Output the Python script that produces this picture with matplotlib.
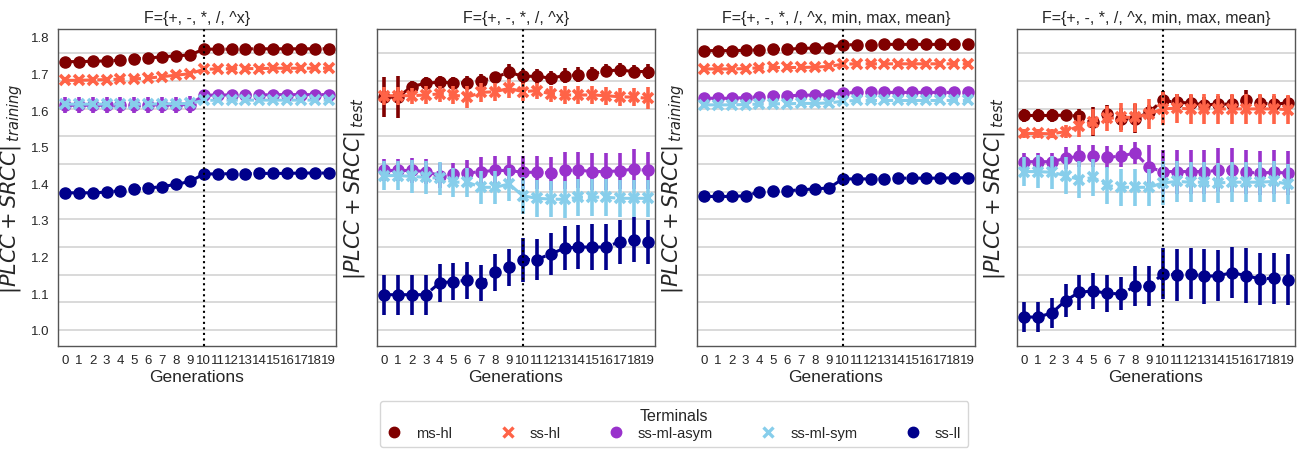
import numpy as np
import matplotlib
matplotlib.use("Agg")
import matplotlib.pyplot as plt
from matplotlib.lines import Line2D

generations = list(range(20))
terminals = ["ms-hl", "ss-hl", "ss-ml-asym", "ss-ml-sym", "ss-ll"]
colors = ["#800000", "#FF6347", "#9932CC", "#87CEEB", "#00008B"]
markers = ["o", "x", "o", "x", "o"]
titles = ["F={+, -, *, /, ^x}", "F={+, -, *, /, ^x}",
          "F={+, -, *, /, ^x, min, max, mean}", "F={+, -, *, /, ^x, min, max, mean}"]
ylabels = [r"$|PLCC + SRCC|_{\,training}$", r"$|PLCC + SRCC|_{\,test}$",
           r"$|PLCC + SRCC|_{\,training}$", r"$|PLCC + SRCC|_{\,test}$"]

# Panel 1: training, F1
train1_ms_hl = [1.732, 1.732, 1.733, 1.734, 1.736, 1.740, 1.742, 1.745, 1.748, 1.750,
                1.766, 1.766, 1.766, 1.767, 1.767, 1.767, 1.767, 1.767, 1.767, 1.767]
train1_ss_hl = [1.681, 1.681, 1.682, 1.683, 1.684, 1.685, 1.687, 1.691, 1.695, 1.699,
                1.711, 1.712, 1.713, 1.713, 1.713, 1.714, 1.714, 1.714, 1.714, 1.714]
train1_asym = [1.613, 1.613, 1.613, 1.613, 1.613, 1.613, 1.614, 1.614, 1.614, 1.615,
               1.640, 1.641, 1.641, 1.641, 1.641, 1.642, 1.642, 1.642, 1.642, 1.642]
train1_sym = [1.616, 1.616, 1.616, 1.616, 1.616, 1.616, 1.616, 1.617, 1.617, 1.618,
              1.626, 1.627, 1.627, 1.627, 1.627, 1.627, 1.627, 1.627, 1.627, 1.627]
train1_ss_ll = [1.374, 1.374, 1.374, 1.376, 1.380, 1.385, 1.387, 1.391, 1.397, 1.405,
                1.425, 1.426, 1.426, 1.426, 1.427, 1.427, 1.427, 1.428, 1.428, 1.428]
train1_err = [[0.004] * 20, [0.004] * 20,
              [0.022] * 10 + [0.006] * 10, [0.006] * 20,
              [0.005] * 10 + [0.010] * 10]

# Panel 2: test, F1
test1_ms_hl = [1.635, 1.635, 1.664, 1.673, 1.676, 1.674, 1.674, 1.680, 1.689, 1.703,
               1.692, 1.692, 1.687, 1.694, 1.696, 1.698, 1.707, 1.709, 1.705, 1.705]
test1_ss_hl = [1.639, 1.639, 1.639, 1.641, 1.644, 1.641, 1.635, 1.648, 1.650, 1.659,
               1.650, 1.653, 1.644, 1.641, 1.641, 1.641, 1.639, 1.636, 1.635, 1.632]
test1_asym = [1.435, 1.435, 1.435, 1.432, 1.421, 1.426, 1.428, 1.432, 1.435, 1.435,
              1.430, 1.430, 1.428, 1.435, 1.436, 1.432, 1.432, 1.434, 1.439, 1.435]
test1_sym = [1.421, 1.421, 1.419, 1.416, 1.414, 1.403, 1.403, 1.389, 1.389, 1.398,
             1.366, 1.359, 1.357, 1.356, 1.362, 1.362, 1.362, 1.359, 1.359, 1.359]
test1_ss_ll = [1.096, 1.096, 1.096, 1.096, 1.128, 1.132, 1.135, 1.128, 1.157, 1.171,
               1.192, 1.192, 1.207, 1.223, 1.226, 1.226, 1.226, 1.241, 1.246, 1.239]
test1_err = [
    [0.055, 0.058, 0.015, 0.018, 0.018, 0.015, 0.02, 0.018, 0.015, 0.022,
     0.02, 0.02, 0.02, 0.02, 0.02, 0.02, 0.018, 0.018, 0.018, 0.02],
    [0.025, 0.025, 0.022, 0.025, 0.022, 0.025, 0.03, 0.025, 0.025, 0.025,
     0.025, 0.022, 0.022, 0.025, 0.025, 0.025, 0.025, 0.025, 0.025, 0.03],
    [0.03, 0.03, 0.035, 0.035, 0.035, 0.03, 0.035, 0.04, 0.04, 0.04,
     0.045, 0.045, 0.045, 0.05, 0.05, 0.05, 0.05, 0.05, 0.055, 0.05],
    [0.04, 0.04, 0.045, 0.045, 0.045, 0.04, 0.04, 0.045, 0.045, 0.045,
     0.05, 0.05, 0.05, 0.05, 0.05, 0.05, 0.05, 0.05, 0.05, 0.05],
    [0.055, 0.055, 0.055, 0.055, 0.052, 0.05, 0.05, 0.048, 0.05, 0.05,
     0.06, 0.055, 0.058, 0.06, 0.06, 0.062, 0.062, 0.06, 0.062, 0.06],
]

# Panel 3: training, F2
train2_ms_hl = [1.762, 1.762, 1.762, 1.763, 1.764, 1.766, 1.766, 1.768, 1.769, 1.770,
                1.778, 1.778, 1.778, 1.779, 1.779, 1.779, 1.779, 1.779, 1.779, 1.779]
train2_ss_hl = [1.712, 1.712, 1.712, 1.713, 1.715, 1.716, 1.716, 1.716, 1.717, 1.719,
                1.725, 1.726, 1.726, 1.726, 1.726, 1.726, 1.726, 1.726, 1.726, 1.726]
train2_asym = [1.632, 1.632, 1.632, 1.634, 1.636, 1.638, 1.639, 1.640, 1.641, 1.642,
               1.646, 1.648, 1.648, 1.648, 1.648, 1.648, 1.648, 1.648, 1.648, 1.648]
train2_sym = [1.614, 1.614, 1.614, 1.615, 1.616, 1.617, 1.617, 1.618, 1.618, 1.619,
              1.624, 1.626, 1.626, 1.626, 1.626, 1.626, 1.626, 1.626, 1.626, 1.626]
train2_ss_ll = [1.364, 1.364, 1.364, 1.366, 1.376, 1.378, 1.380, 1.382, 1.385, 1.387,
                1.412, 1.412, 1.412, 1.413, 1.414, 1.414, 1.414, 1.414, 1.415, 1.415]
train2_err = [[0.004] * 20, [0.004] * 20, [0.006] * 20, [0.005] * 20,
              [0.006] * 10 + [0.012] * 10]

# Panel 4: test, F2
test2_ms_hl = [1.585, 1.585, 1.585, 1.586, 1.583, 1.568, 1.589, 1.576, 1.576, 1.594,
               1.626, 1.621, 1.619, 1.614, 1.616, 1.616, 1.626, 1.619, 1.616, 1.619]
test2_ss_hl = [1.536, 1.536, 1.535, 1.541, 1.557, 1.568, 1.577, 1.580, 1.580, 1.589,
               1.603, 1.605, 1.603, 1.603, 1.603, 1.603, 1.603, 1.603, 1.603, 1.601]
test2_asym = [1.459, 1.459, 1.459, 1.468, 1.474, 1.474, 1.471, 1.474, 1.483, 1.444,
              1.432, 1.432, 1.432, 1.432, 1.435, 1.435, 1.430, 1.428, 1.430, 1.428]
test2_sym = [1.432, 1.432, 1.430, 1.421, 1.410, 1.416, 1.394, 1.389, 1.389, 1.389,
             1.401, 1.405, 1.403, 1.403, 1.401, 1.403, 1.403, 1.403, 1.405, 1.398]
test2_ss_ll = [1.035, 1.035, 1.046, 1.080, 1.103, 1.106, 1.100, 1.098, 1.119, 1.119,
               1.153, 1.150, 1.153, 1.146, 1.148, 1.156, 1.148, 1.139, 1.141, 1.137]
test2_err = [
    [0.018, 0.018, 0.018, 0.015, 0.02, 0.04, 0.025, 0.03, 0.04, 0.02,
     0.025, 0.022, 0.022, 0.022, 0.022, 0.025, 0.028, 0.022, 0.022, 0.02],
    [0.012, 0.012, 0.012, 0.018, 0.03, 0.035, 0.035, 0.04, 0.04, 0.04,
     0.045, 0.04, 0.04, 0.04, 0.04, 0.04, 0.04, 0.04, 0.04, 0.04],
    [0.025, 0.025, 0.025, 0.03, 0.03, 0.03, 0.03, 0.03, 0.03, 0.06,
     0.06, 0.06, 0.06, 0.06, 0.06, 0.06, 0.06, 0.06, 0.06, 0.06],
    [0.04, 0.045, 0.045, 0.05, 0.05, 0.05, 0.05, 0.05, 0.05, 0.05,
     0.06, 0.055, 0.055, 0.055, 0.055, 0.055, 0.055, 0.055, 0.055, 0.055],
    [0.04, 0.04, 0.04, 0.045, 0.048, 0.05, 0.05, 0.045, 0.055, 0.055,
     0.07, 0.07, 0.07, 0.075, 0.07, 0.07, 0.075, 0.07, 0.07, 0.07],
]

panels = [
    ([train1_ms_hl, train1_ss_hl, train1_asym, train1_sym, train1_ss_ll], train1_err),
    ([test1_ms_hl, test1_ss_hl, test1_asym, test1_sym, test1_ss_ll], test1_err),
    ([train2_ms_hl, train2_ss_hl, train2_asym, train2_sym, train2_ss_ll], train2_err),
    ([test2_ms_hl, test2_ss_hl, test2_asym, test2_sym, test2_ss_ll], test2_err),
]

ytick_vals = [1.0, 1.1, 1.2, 1.3, 1.4, 1.5, 1.6, 1.7, 1.8]
grid_vals = list(np.linspace(1.0, 1.7545, 11))

plt.rcParams["font.family"] = ["Liberation Sans", "DejaVu Sans"]
plt.rcParams["mathtext.fontset"] = "dejavusans"

fig = plt.figure(figsize=(13.02, 4.52), dpi=100)
lefts = [0.0445, 0.2896, 0.5353, 0.7811]
W, B, H = 0.2133, 0.2323, 0.7013
txt = "#262626"

for i, (series, errs) in enumerate(panels):
    ax = fig.add_axes([lefts[i], B, W, H])
    for yv in grid_vals:
        ax.axhline(yv, color="#d3d3d3", lw=1.2, zorder=0)
    for j, name in enumerate(terminals):
        mew = 2.6 if markers[j] == "x" else 1
        ms = 6.8 if markers[j] == "x" else 8
        ax.errorbar(generations, series[j], yerr=errs[j], color=colors[j],
                    marker=markers[j], ms=ms, mew=mew, ls="--", lw=2.2,
                    elinewidth=2.6, capsize=0, zorder=2 + j)
    ax.axvline(10, color="black", ls=":", lw=1.5, zorder=10)
    ax.set_xlim(-0.5, 19.5)
    ax.set_ylim(0.956, 1.821)
    ax.set_xticks(generations)
    ax.set_xticklabels([str(g) for g in generations], fontsize=9.5, color=txt)
    ax.set_yticks(ytick_vals)
    if i == 0:
        ax.set_yticklabels([f"{v:.1f}" for v in ytick_vals], fontsize=9.5, color=txt)
        lp = 4
    else:
        ax.set_yticklabels([])
        lp = 1
    ax.tick_params(length=0, pad=6)
    ax.set_xlabel("Generations", fontsize=12.5, color=txt, labelpad=2)
    ax.set_ylabel(ylabels[i], fontsize=15, color=txt, labelpad=lp)
    ax.set_title(titles[i], fontsize=11.5, color=txt, pad=5)
    for s in ax.spines.values():
        s.set_color("#555555")
        s.set_linewidth(1.0)

handles = [Line2D([0], [0], color=colors[j], marker=markers[j], ls="none",
                  ms=7.5 if markers[j] == "o" else 6.5,
                  mew=2.4 if markers[j] == "x" else 1) for j in range(5)]
leg = fig.legend(handles, terminals, title="Terminals", loc="lower center",
                 bbox_to_anchor=(0.5177, 0.008), ncol=5, fontsize=10.5,
                 title_fontsize=11.5, frameon=True, columnspacing=3.3,
                 handlelength=1.0, handletextpad=1.0, borderpad=0.5,
                 labelspacing=0.2, borderaxespad=0.0)
leg.get_frame().set_edgecolor("#cccccc")
for t in leg.get_texts():
    t.set_color(txt)
leg.get_title().set_color(txt)

fig.savefig("out.png", dpi=100)
